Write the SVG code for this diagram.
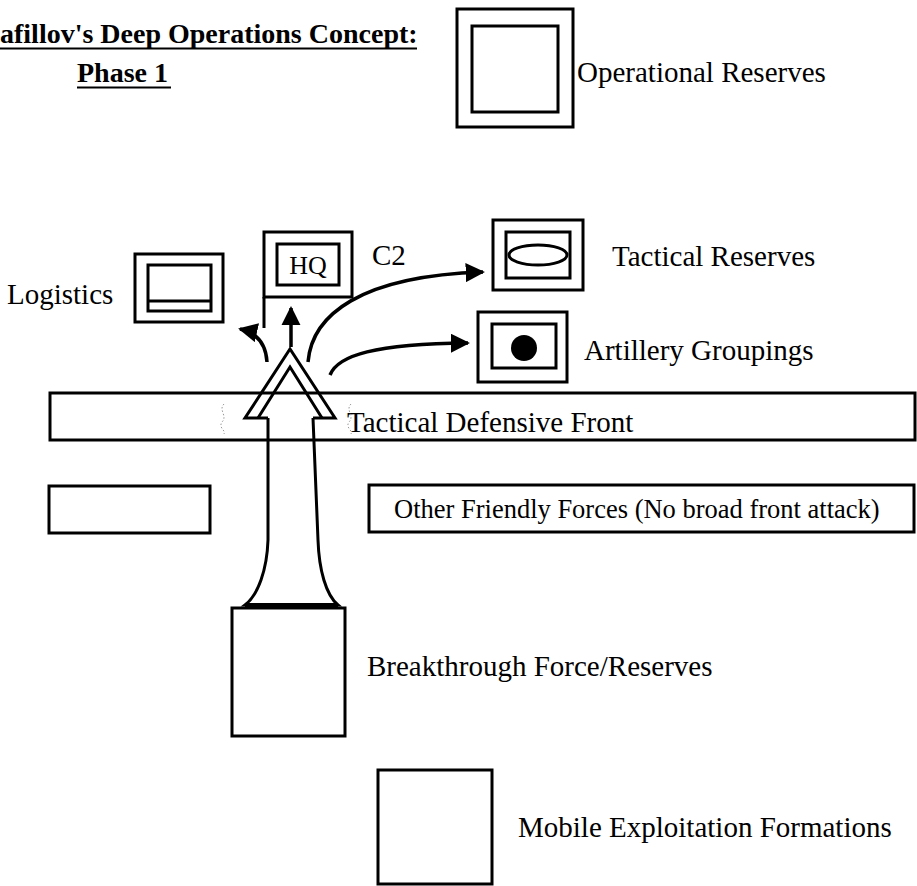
<svg xmlns="http://www.w3.org/2000/svg" width="917" height="886" viewBox="0 0 917 886">
<style>
.box{fill:none;stroke:#000;stroke-width:3}
.ln{fill:none;stroke:#000;stroke-width:3;stroke-linejoin:miter}
.t{font-family:"Liberation Serif","Times New Roman",serif;font-size:29px;fill:#000}
.tb{font-family:"Liberation Serif","Times New Roman",serif;font-size:28px;font-weight:bold;fill:#000}
.conn{fill:none;stroke:#000;stroke-width:3.5}
.spk{fill:none;stroke:#999;stroke-width:1;stroke-dasharray:1.5 2}
</style>
<defs>
<marker id="ah" viewBox="0 0 10 10" refX="9" refY="5" markerWidth="5.5" markerHeight="5.5" orient="auto" markerUnits="strokeWidth">
<path d="M0,0 L10,5 L0,10 z" fill="#000"/>
</marker>
</defs>
<rect width="917" height="886" fill="#fff"/>
<g id="title">
<text class="tb" x="0" y="43">afillov's Deep Operations Concept:</text>
<line x1="0" y1="48.5" x2="417" y2="48.5" stroke="#000" stroke-width="2"/>
<text class="tb" x="77" y="82">Phase 1</text>
<line x1="77" y1="87.5" x2="171" y2="87.5" stroke="#000" stroke-width="2"/>
</g>
<g id="operational-reserves">
<rect class="box" x="457" y="9" width="116" height="118"/>
<rect class="box" x="472" y="26" width="86" height="86"/>
<text class="t" x="577" y="82">Operational Reserves</text>
</g>
<g id="logistics">
<rect class="box" x="135" y="254" width="88" height="68"/>
<rect class="box" x="148" y="265" width="63" height="46"/>
<line x1="148" y1="301" x2="211" y2="301" stroke="#000" stroke-width="3"/>
<text class="t" x="7" y="304">Logistics</text>
</g>
<g id="hq">
<rect class="box" x="264" y="232" width="88" height="65"/>
<rect class="box" x="277" y="244" width="62" height="41"/>
<line x1="264" y1="297" x2="264" y2="328" stroke="#000" stroke-width="3"/>
<text class="t" x="308" y="274" style="font-size:26px" text-anchor="middle">HQ</text>
<text class="t" x="372" y="265">C2</text>
</g>
<g id="tactical-reserves">
<rect class="box" x="493" y="220" width="90" height="70"/>
<rect class="box" x="506" y="232" width="64" height="46"/>
<ellipse cx="538" cy="255" rx="29" ry="10" fill="none" stroke="#000" stroke-width="3"/>
<text class="t" x="612" y="266">Tactical Reserves</text>
</g>
<g id="artillery-groupings">
<rect class="box" x="478" y="312" width="89" height="70"/>
<rect class="box" x="492" y="324" width="64" height="44"/>
<circle cx="524" cy="348" r="13" fill="#000"/>
<text class="t" x="584" y="360">Artillery Groupings</text>
</g>
<g id="tactical-defensive-front">
<rect class="box" x="50" y="393" width="865" height="47"/>
<text class="t" x="347" y="432">Tactical Defensive Front</text>
<path class="spk" d="M224,404 C218,410 228,416 222,422 C218,428 226,430 224,434"/>
<path class="spk" d="M351,404 C345,410 355,416 349,422 C345,428 353,430 351,434"/>
</g>
<g id="other-friendly-forces">
<rect class="box" x="49" y="486" width="161" height="47"/>
<rect class="box" x="369" y="485" width="545" height="47"/>
<text class="t" x="394" y="518" style="font-size:26.5px">Other Friendly Forces (No broad front attack)</text>
</g>
<g id="breakthrough-force">
<rect class="box" x="232" y="608" width="113" height="128"/>
<text class="t" x="367" y="676">Breakthrough Force/Reserves</text>
</g>
<g id="mobile-exploitation">
<rect class="box" x="378" y="770" width="114" height="114"/>
<text class="t" x="518" y="837">Mobile Exploitation Formations</text>
</g>
<g id="breakthrough-arrow">
<path class="ln" d="M268,418 L245,418 L290,349 L335,418 L313,418"/>
<path class="ln" d="M258,418 L290,367 L322,418"/>
<path class="ln" d="M268,418 L268,540 C267,570 258,595 245,605 L338,605 C326,595 319,570 318,540 L313,418"/>
<line x1="245" y1="605" x2="338" y2="605" stroke="#000" stroke-width="4"/>
</g>
<g id="connectors">
<path class="conn" d="M267,362 C266,345 258,333 240,329" marker-end="url(#ah)"/>
<path class="conn" d="M291,347 L291,308" marker-end="url(#ah)"/>
<path class="conn" d="M308,362 C312,315 360,276 483,272" marker-end="url(#ah)"/>
<path class="conn" d="M330,375 C338,355 375,344 468,343" marker-end="url(#ah)"/>
</g>
</svg>
